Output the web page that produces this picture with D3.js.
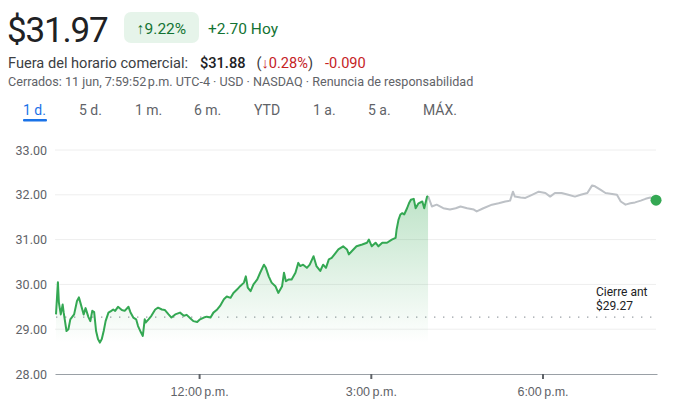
<!DOCTYPE html>
<html lang="es">
<head>
<meta charset="utf-8">
<script src="https://cdn.jsdelivr.net/npm/d3@7"></script>
<style>
  html, body { margin: 0; padding: 0; background: #fff; }
  svg { display: block; font-family: Roboto, Arial, sans-serif; }
  .tab { font-size: 14px; fill: #5f6368; }
  .tab.active { fill: #1a73e8; }
  .axis text { font-size: 12.5px; fill: #5f6368; }
</style>
</head>
<body>
<svg id="chart" width="677" height="413"></svg>
<script>
// Regular session (9:30 a.m. - 4:00 p.m.)
const regularTimes = [
  "09:30","09:32","09:33","09:35","09:37","09:38","09:41","09:43","09:45","09:49",
  "09:52","09:54","09:56","09:59","10:01","10:04","10:06","10:08","10:10","10:12",
  "10:14","10:16","10:18","10:20","10:22","10:25","10:28","10:30","10:32","10:35",
  "10:39","10:42","10:46","10:48","10:51","10:54","10:56","10:59","11:01","11:03",
  "11:04","11:07","11:10","11:14","11:17","11:21","11:24","11:28","11:31","11:35",
  "11:40","11:44","11:47","11:51","11:54","11:58","12:01","12:05","12:08","12:12",
  "12:15","12:19","12:22","12:26","12:29","12:33","12:36","12:40","12:43","12:47",
  "12:49","12:51","12:54","12:57","13:01","13:04","13:08","13:10","13:13","13:16",
  "13:20","13:23","13:27","13:29","13:31","13:34","13:37","13:41","13:44","13:46",
  "13:49","13:53","13:56","14:00","14:03","14:07","14:10","14:13","14:16","14:19",
  "14:26","14:31","14:35","14:37","14:40","14:45","14:51","14:56","14:58","15:01",
  "15:05","15:08","15:12","15:17","15:22","15:26","15:27","15:29","15:31","15:33",
  "15:35","15:38","15:40","15:42","15:45","15:47","15:50","15:54","15:56","15:59",
  "16:00"
];
const regularPrices = [
  29.33,30.05,29.60,29.33,29.55,29.38,28.96,29.00,29.22,29.33,
  29.63,29.71,29.56,29.33,29.47,29.27,29.18,29.41,29.38,28.96,
  28.78,28.70,28.78,28.96,29.18,29.37,29.41,29.44,29.41,29.50,
  29.43,29.41,29.50,29.38,29.26,29.22,29.07,28.93,28.85,29.22,
  29.15,29.22,29.30,29.44,29.48,29.44,29.43,29.33,29.26,29.33,
  29.37,29.30,29.32,29.24,29.18,29.16,29.22,29.26,29.28,29.26,
  29.37,29.44,29.52,29.67,29.73,29.70,29.81,29.89,29.96,30.04,
  30.18,29.93,29.85,30.00,30.11,30.26,30.44,30.37,30.18,30.04,
  29.96,29.81,29.96,30.26,30.07,30.11,30.11,30.26,30.48,30.41,
  30.44,30.37,30.44,30.63,30.41,30.30,30.44,30.37,30.56,30.59,
  30.78,30.85,30.78,30.67,30.74,30.85,30.89,30.93,31.00,30.85,
  30.93,30.85,30.93,30.93,31.00,31.04,31.22,31.44,31.56,31.59,
  31.56,31.70,31.81,31.89,31.91,31.70,31.81,31.85,31.70,31.96,
  31.97
];

// After hours (4:00 p.m. - 8:00 p.m.)
const afterTimes = [
  "16:00","16:04","16:09","16:16","16:23","16:29","16:34","16:41","16:48","16:51",
  "16:58","17:07","17:14","17:21","17:26","17:29","17:31","17:37","17:42","17:49",
  "17:56","18:03","18:08","18:13","18:20","18:27","18:34","18:40","18:47","18:52",
  "18:55","19:01","19:06","19:13","19:18","19:22","19:27","19:32","19:37","19:43",
  "19:48","19:53","19:59"
];
const afterPrices = [
  31.97,31.74,31.78,31.70,31.67,31.70,31.74,31.70,31.67,31.63,
  31.70,31.78,31.81,31.85,31.87,32.07,31.96,31.94,31.93,32.00,
  32.07,32.04,31.96,32.04,32.04,32.00,31.96,32.00,32.04,32.21,
  32.19,32.11,32.04,32.02,32.00,31.85,31.78,31.81,31.83,31.87,
  31.91,31.94,31.88
];

const prevClose = 29.27;
const yTicks = [28, 29, 30, 31, 32, 33];
const xTicks = ["12:00", "15:00", "18:00"];
const xTickLabels = ["12:00\u202Fp.m.", "3:00\u202Fp.m.", "6:00\u202Fp.m."];
const tabs = ["1 d.", "5 d.", "1 m.", "6 m.", "YTD", "1 a.", "5 a.", "MÁX."];

const parseTime = d3.timeParse("%H:%M");
const regular = regularTimes.map((t, i) => ({ t: parseTime(t), v: regularPrices[i] }));
const after = afterTimes.map((t, i) => ({ t: parseTime(t), v: afterPrices[i] }));

const svg = d3.select("#chart");

// ---- Header ----
svg.append("text")
  .attr("x", 7).attr("y", 42)
  .attr("font-size", 35).attr("letter-spacing", -1.2)
  .attr("fill", "#202124")
  .text("$31.97");

svg.append("rect")
  .attr("x", 124).attr("y", 12).attr("width", 75).attr("height", 31)
  .attr("rx", 7).attr("fill", "#e6f4ea");
svg.append("text")
  .attr("x", 161.5).attr("y", 33.5).attr("text-anchor", "middle")
  .attr("font-size", 15.5).attr("fill", "#137333")
  .text("↑9.22%");
svg.append("text")
  .attr("x", 208).attr("y", 33.5)
  .attr("font-size", 15.5).attr("fill", "#137333")
  .text("+2.70 Hoy");

const line2 = svg.append("text").attr("x", 8).attr("y", 68).attr("font-size", 14.6);
line2.append("tspan").attr("fill", "#3c4043").text("Fuera del horario comercial:");
line2.append("tspan").attr("dx", 12).attr("fill", "#202124").attr("font-weight", 500).text("$31.88");
line2.append("tspan").attr("dx", 11).attr("fill", "#3c4043").text("(");
line2.append("tspan").attr("fill", "#c5221f").text("↓0.28%");
line2.append("tspan").attr("fill", "#3c4043").text(")");
line2.append("tspan").attr("dx", 12).attr("fill", "#c5221f").text("-0.090");

svg.append("text")
  .attr("x", 8).attr("y", 86)
  .attr("font-size", 12.6).attr("fill", "#5f6368")
  .text("Cerrados: 11 jun, 7:59:52\u202Fp.m. UTC-4 · USD · NASDAQ · Renuncia de responsabilidad");

// ---- Range tabs ----
const tabX = [23, 79, 135, 194, 254, 313, 368, 423];
svg.selectAll(".tab")
  .data(tabs)
  .enter()
  .append("text")
  .attr("class", (d, i) => i === 0 ? "tab active" : "tab")
  .attr("x", (d, i) => tabX[i])
  .attr("y", 115)
  .text(d => d);
svg.append("rect")
  .attr("x", 23).attr("y", 119).attr("width", 24).attr("height", 2.5)
  .attr("rx", 1).attr("fill", "#1a73e8");

// ---- Scales ----
const x = d3.scaleTime()
  .domain([parseTime("09:30"), parseTime("20:00")])
  .range([56, 657]);
const y = d3.scaleLinear()
  .domain([28, 33])
  .range([374, 150]);

// Grid lines
svg.append("g")
  .selectAll("line")
  .data(yTicks.filter(d => d !== 28))
  .enter()
  .append("line")
  .attr("x1", 55).attr("x2", 656)
  .attr("y1", d => y(d)).attr("y2", d => y(d))
  .attr("stroke", "#eeeeee");

// Y axis labels
svg.append("g")
  .attr("class", "axis")
  .selectAll("text")
  .data(yTicks)
  .enter()
  .append("text")
  .attr("x", 47)
  .attr("y", d => y(d) + 4.5)
  .attr("text-anchor", "end")
  .text(d => d.toFixed(2));

// X axis
const xAxis = svg.append("g")
  .attr("class", "axis")
  .attr("transform", `translate(0,${y(28)})`)
  .call(d3.axisBottom(x)
    .tickValues(xTicks.map(parseTime))
    .tickFormat((d, i) => xTickLabels[i])
    .tickSize(5)
    .tickPadding(8)
    .tickSizeOuter(0));
xAxis.select(".domain").attr("stroke", "#9aa0a6").attr("d", "M55.5,0.5H657.5");
xAxis.selectAll(".tick line").attr("stroke", "#5f6368").attr("stroke-width", 2);
xAxis.selectAll(".tick text").attr("font-size", 12);

// Previous close dotted line
svg.append("line")
  .attr("x1", 56).attr("x2", 656)
  .attr("y1", y(prevClose)).attr("y2", y(prevClose))
  .attr("stroke", "#9aa0a6")
  .attr("stroke-width", 1.4)
  .attr("stroke-dasharray", "1.4,7.6");

const prevLabel = svg.append("text")
  .attr("x", 596).attr("font-size", 12).attr("fill", "#202124");
prevLabel.append("tspan").attr("x", 596).attr("y", 296).text("Cierre ant");
prevLabel.append("tspan").attr("x", 596).attr("y", 310).text("$" + prevClose.toFixed(2));

// Area gradient
const defs = svg.append("defs");
const grad = defs.append("linearGradient")
  .attr("id", "areaGrad")
  .attr("gradientUnits", "userSpaceOnUse")
  .attr("x1", 0).attr("x2", 0)
  .attr("y1", y(32)).attr("y2", y(28.7));
grad.append("stop").attr("offset", 0).attr("stop-color", "#34a853").attr("stop-opacity", 0.32);
grad.append("stop").attr("offset", 1).attr("stop-color", "#34a853").attr("stop-opacity", 0);

svg.append("path")
  .datum(regular)
  .attr("fill", "url(#areaGrad)")
  .attr("d", d3.area().x(d => x(d.t)).y0(y(28)).y1(d => y(d.v)));

// After hours line
svg.append("path")
  .datum(after)
  .attr("fill", "none")
  .attr("stroke", "#bdc1c6")
  .attr("stroke-width", 2)
  .attr("stroke-linejoin", "round")
  .attr("d", d3.line().x(d => x(d.t)).y(d => y(d.v)));

// Regular session line
svg.append("path")
  .datum(regular)
  .attr("fill", "none")
  .attr("stroke", "#34a853")
  .attr("stroke-width", 2)
  .attr("stroke-linejoin", "round")
  .attr("d", d3.line().x(d => x(d.t)).y(d => y(d.v)));

// Last price dot
const last = after[after.length - 1];
svg.append("circle")
  .attr("cx", x(last.t)).attr("cy", y(last.v))
  .attr("r", 5.5)
  .attr("fill", "#34a853");
</script>
</body>
</html>
